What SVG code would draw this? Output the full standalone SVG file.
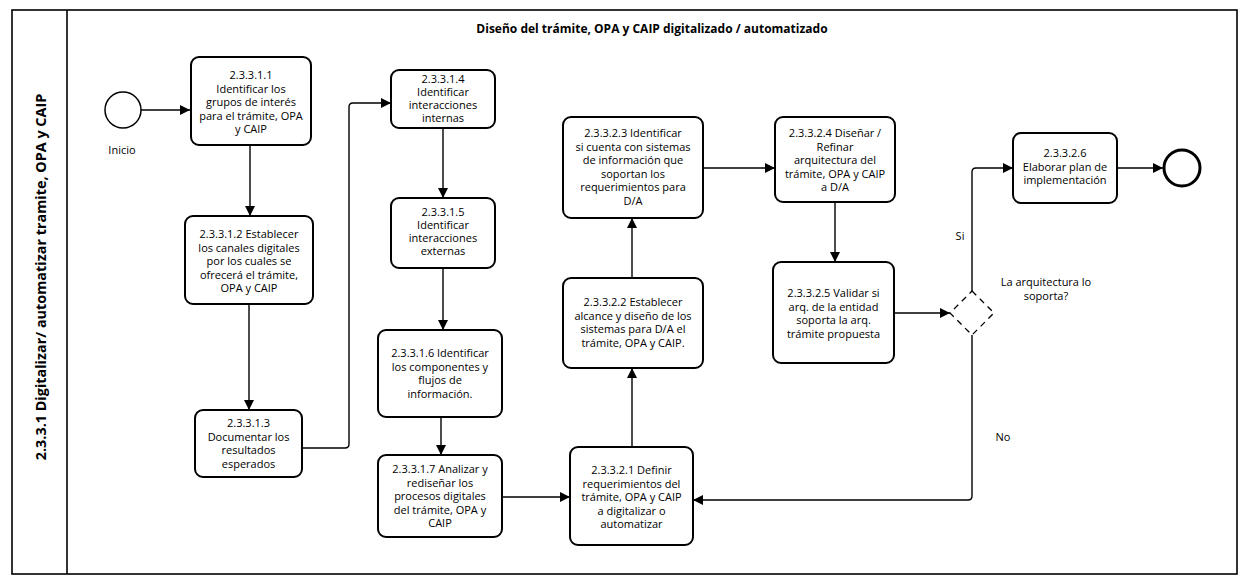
<svg xmlns="http://www.w3.org/2000/svg" width="1244" height="579" viewBox="0 0 1244 579">
<defs>
<marker id="arr" markerWidth="11" markerHeight="11" refX="10" refY="5" orient="auto" markerUnits="userSpaceOnUse">
<path d="M0,0 L10,5 L0,10 z" fill="#000"/>
</marker>
<style>
.t{font-family:"Open Sans","Noto Sans","Liberation Sans",sans-serif;font-size:11px;fill:#000;text-anchor:middle}
.box{fill:#fff;stroke:#000;stroke-width:2}
.c{fill:none;stroke:#000;stroke-width:1.4;marker-end:url(#arr)}
.frame{fill:none;stroke:#000;stroke-width:1.6}
.b{font-family:"Open Sans","Noto Sans","Liberation Sans",sans-serif;font-weight:bold;fill:#000;text-anchor:middle}
</style>
</defs>
<rect width="1244" height="579" fill="#fff"/>
<g id="pool">
<rect class="frame" x="12" y="10" width="1225" height="564"/>
<line class="frame" x1="67" y1="10" x2="67" y2="574"/>
<text class="b" font-size="14.4" transform="translate(46,277) rotate(-90)">2.3.3.1 Digitalizar/ automatizar tramite, OPA y CAIP</text>
<text class="b" font-size="12" x="652" y="33">Diseño del trámite, OPA y CAIP digitalizado / automatizado</text>
</g>
<g id="connectors">
<path class="c" d="M141,110 H190"/>
<path class="c" d="M250,145 V216"/>
<path class="c" d="M249,304 V410"/>
<path class="c" d="M302,448 H345 Q349,448 349,444 V107 Q349,103 353,103 H391"/>
<path class="c" d="M443,128 V198"/>
<path class="c" d="M443,268 V330"/>
<path class="c" d="M441,417 V455"/>
<path class="c" d="M502,497 H570"/>
<path class="c" d="M632,447 V368"/>
<path class="c" d="M632,278 V218"/>
<path class="c" d="M703,168 H775"/>
<path class="c" d="M835,202 V262"/>
<path class="c" d="M894,313 H950"/>
<path class="c" d="M972,291 V172 Q972,168 976,168 H1013"/>
<path class="c" d="M1117,168 H1163"/>
<path class="c" d="M972,335 V496 Q972,500 968,500 H693"/>
<text class="t" x="960" y="240">Si</text>
<text class="t" x="1003" y="441">No</text>
</g>
<g id="start">
<circle cx="123" cy="110" r="18" fill="#fff" stroke="#000" stroke-width="1.5"/>
<text class="t" x="122" y="154">Inicio</text>
</g>
<g id="t2.3.3.1.1">
<rect class="box" x="191" y="57" width="120" height="88" rx="8"/>
<text class="t"><tspan x="251" y="79">2.3.3.1.1</tspan><tspan x="251" dy="13.5">Identificar los</tspan><tspan x="251" dy="13.5">grupos de interés</tspan><tspan x="251" dy="13.5">para el trámite, OPA</tspan><tspan x="251" dy="13.5">y CAIP</tspan></text>
</g>
<g id="t2.3.3.1.2">
<rect class="box" x="185" y="216" width="128" height="88" rx="8"/>
<text class="t"><tspan x="249" y="238">2.3.3.1.2 Establecer</tspan><tspan x="249" dy="13.5">los canales digitales</tspan><tspan x="249" dy="13.5">por los cuales se</tspan><tspan x="249" dy="13.5">ofrecerá el trámite,</tspan><tspan x="249" dy="13.5">OPA y CAIP</tspan></text>
</g>
<g id="t2.3.3.1.3">
<rect class="box" x="195" y="410" width="107" height="67" rx="8"/>
<text class="t"><tspan x="248.5" y="427">2.3.3.1.3</tspan><tspan x="248.5" dy="13.5">Documentar los</tspan><tspan x="248.5" dy="13.5">resultados</tspan><tspan x="248.5" dy="13.5">esperados</tspan></text>
</g>
<g id="t2.3.3.1.4">
<rect class="box" x="391" y="70" width="104" height="58" rx="8"/>
<text class="t"><tspan x="443" y="83">2.3.3.1.4</tspan><tspan x="443" dy="13">Identificar</tspan><tspan x="443" dy="13">interacciones</tspan><tspan x="443" dy="13">internas</tspan></text>
</g>
<g id="t2.3.3.1.5">
<rect class="box" x="391" y="198" width="104" height="70" rx="8"/>
<text class="t"><tspan x="443" y="216">2.3.3.1.5</tspan><tspan x="443" dy="13">Identificar</tspan><tspan x="443" dy="13">interacciones</tspan><tspan x="443" dy="13">externas</tspan></text>
</g>
<g id="t2.3.3.1.6">
<rect class="box" x="378" y="330" width="124" height="87" rx="8"/>
<text class="t"><tspan x="440" y="357">2.3.3.1.6 Identificar</tspan><tspan x="440" dy="13.5">los componentes y</tspan><tspan x="440" dy="13.5">flujos de</tspan><tspan x="440" dy="13.5">información.</tspan></text>
</g>
<g id="t2.3.3.1.7">
<rect class="box" x="378" y="455" width="124" height="82" rx="8"/>
<text class="t"><tspan x="440" y="473">2.3.3.1.7 Analizar y</tspan><tspan x="440" dy="13.5">rediseñar los</tspan><tspan x="440" dy="13.5">procesos digitales</tspan><tspan x="440" dy="13.5">del trámite, OPA y</tspan><tspan x="440" dy="13.5">CAIP</tspan></text>
</g>
<g id="t2.3.3.2.1">
<rect class="box" x="570" y="447" width="123" height="98" rx="8"/>
<text class="t"><tspan x="631.5" y="474">2.3.3.2.1 Definir</tspan><tspan x="631.5" dy="13.5">requerimientos del</tspan><tspan x="631.5" dy="13.5">trámite, OPA y CAIP</tspan><tspan x="631.5" dy="13.5">a digitalizar o</tspan><tspan x="631.5" dy="13.5">automatizar</tspan></text>
</g>
<g id="t2.3.3.2.2">
<rect class="box" x="563" y="278" width="140" height="90" rx="8"/>
<text class="t"><tspan x="633" y="306">2.3.3.2.2 Establecer</tspan><tspan x="633" dy="13.5">alcance y diseño de los</tspan><tspan x="633" dy="13.5">sistemas para D/A el</tspan><tspan x="633" dy="13.5">trámite, OPA y CAIP.</tspan></text>
</g>
<g id="t2.3.3.2.3">
<rect class="box" x="563" y="117" width="140" height="101" rx="8"/>
<text class="t"><tspan x="633" y="137">2.3.3.2.3 Identificar</tspan><tspan x="633" dy="13.5">si cuenta con sistemas</tspan><tspan x="633" dy="13.5">de información que</tspan><tspan x="633" dy="13.5">soportan los</tspan><tspan x="633" dy="13.5">requerimientos para</tspan><tspan x="633" dy="13.5">D/A</tspan></text>
</g>
<g id="t2.3.3.2.4">
<rect class="box" x="775" y="117" width="120" height="85" rx="8"/>
<text class="t"><tspan x="835" y="137">2.3.3.2.4 Diseñar /</tspan><tspan x="835" dy="13.5">Refinar</tspan><tspan x="835" dy="13.5">arquitectura del</tspan><tspan x="835" dy="13.5">trámite, OPA y CAIP</tspan><tspan x="835" dy="13.5">a D/A</tspan></text>
</g>
<g id="t2.3.3.2.5">
<rect class="box" x="773" y="262" width="121" height="101" rx="8"/>
<text class="t"><tspan x="833.5" y="297">2.3.3.2.5 Validar si</tspan><tspan x="833.5" dy="13.5">arq. de la entidad</tspan><tspan x="833.5" dy="13.5">soporta la arq.</tspan><tspan x="833.5" dy="13.5">trámite propuesta</tspan></text>
</g>
<g id="gateway">
<polygon points="972,291 994,313 972,335 950,313" fill="#fff" stroke="#000" stroke-width="1.3" stroke-dasharray="6,5"/>
<text class="t"><tspan x="1046" y="286">La arquitectura lo</tspan><tspan x="1046" dy="14">soporta?</tspan></text>
</g>
<g id="t2.3.3.2.6">
<rect class="box" x="1013" y="133" width="104" height="70" rx="8"/>
<text class="t"><tspan x="1065" y="157">2.3.3.2.6</tspan><tspan x="1065" dy="13.5">Elaborar plan de</tspan><tspan x="1065" dy="13.5">implementación</tspan></text>
</g>
<g id="end">
<circle cx="1182" cy="168" r="18" fill="#fff" stroke="#000" stroke-width="3"/>
</g>
</svg>
